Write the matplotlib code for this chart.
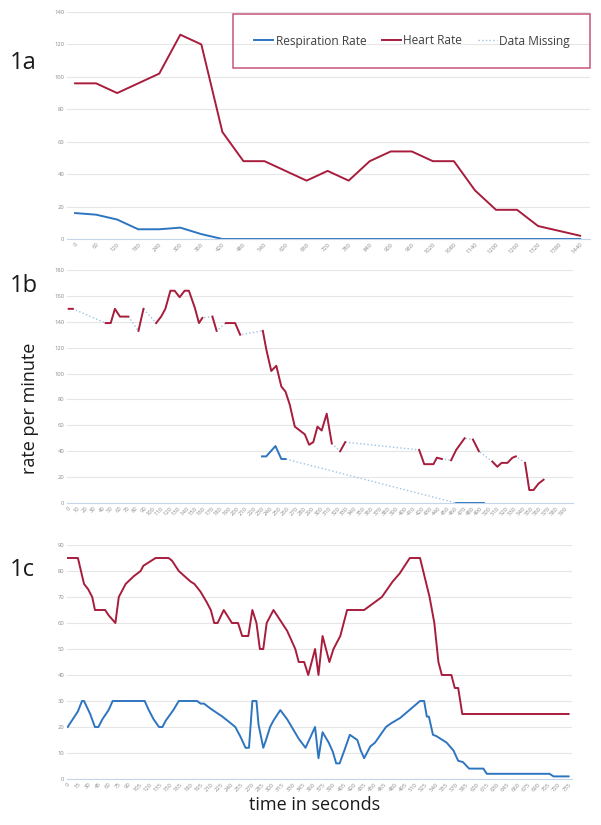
import numpy as np
import matplotlib
matplotlib.use('Agg')
import matplotlib.pyplot as plt
from matplotlib.patches import Rectangle
from matplotlib.lines import Line2D

plt.rcParams['font.family'] = ['Open Sans', 'DejaVu Sans']

# ---- panel 1a (one point per minute) ----
t_a = list(range(0, 1441, 60))
hr_a = [96, 96, 90, 96, 102, 126, 120, 66, 48, 48, 42, 36, 42, 36, 48, 54, 54,
        48, 48, 30, 18, 18, 8, 5, 2]
rr_a = [16, 15, 12, 6, 6, 7, 3, 0, 0, 0, 0, 0, 0, 0, 0, 0, 0, 0, 0, 0, 0, 0, 0, 0, 0]

# ---- panel 1b (gaps = missing data) ----
nan = np.nan
t_b = list(range(0, 591, 10))
hr_b_t = [0, 5, nan,
          44, 50, 55, 61, 71, nan,
          83, 89, nan,
          104, 110, 115, 121, 126, 132, 138, 143, 150, 155, 159, nan,
          171, 176, nan,
          187, 198, 204, nan,
          231, 235, 241, 247, 253, 258, 263, 269, 275, 281, 286, 291, 296, 301, 307, 313, nan,
          323, 329, nan,
          417, 423, 434, 438, 444, nan,
          455, 461, 471, nan,
          481, 488, nan,
          504, 510, 515, 522, 528, 532, nan,
          543, 548, 553, 559, 565]
hr_b_v = [150, 150, nan,
          139, 139, 150, 144, 144, nan,
          133, 150, nan,
          139, 144, 150, 164, 164, 159, 164, 164, 151, 139, 143, nan,
          144, 133, nan,
          139, 139, 130, nan,
          133, 119, 102, 106, 90, 86, 76, 59, 56, 53, 45, 47, 59, 56, 69, 46, nan,
          40, 47, nan,
          41, 30, 30, 35, 34, nan,
          33, 41, 50, nan,
          49, 40, nan,
          32, 28, 31, 31, 35, 36, nan,
          31, 10, 10, 15, 18]
rr_b_t = [230, 235, 246, 253, 258, nan, 461, 494]
rr_b_v = [36, 36, 44, 34, 34, nan, 0, 0]

# ---- panel 1c ----
t_c = list(range(0, 736, 15))
hr_c_t = [0, 15, 24, 30, 36, 40, 55, 60, 70, 75, 85, 97, 107, 111, 129, 148, 153, 163,
          180, 186, 195, 204, 210, 215, 220, 229, 241, 250, 256, 265, 271, 277, 282,
          287, 292, 302, 312, 322, 334, 339, 347, 353, 363, 368, 374, 384, 390, 400,
          410, 435, 461, 469, 477, 487, 502, 517, 531, 538, 544, 549, 563, 568, 573,
          579, 735]
hr_c_v = [85, 85, 75, 73, 70, 65, 65, 63, 60, 70, 75, 78, 80, 82, 85, 85, 84, 80,
          76, 75, 72, 68, 65, 60, 60, 65, 60, 60, 55, 55, 65, 60, 50,
          50, 60, 65, 61, 57, 50, 45, 45, 40, 50, 40, 55, 45, 50, 55,
          65, 65, 70, 73, 76, 79, 85, 85, 70, 60, 45, 40, 40, 35, 35,
          25, 25]
rr_c_t = [0, 5, 15, 21, 24, 33, 40, 45, 51, 60, 66, 113, 119, 126, 134, 139, 144, 155,
          163, 190, 195, 200, 210, 227, 239, 246, 254, 261, 266, 271, 277, 280, 287,
          291, 297, 302, 312, 322, 339, 349, 363, 368, 374, 383, 389, 394, 399, 406,
          414, 425, 430, 435, 444, 451, 467, 475, 488, 517, 523, 527, 530, 536, 541,
          556, 566, 573, 580, 589, 610, 615, 707, 713, 735]
rr_c_v = [20, 22, 26, 30, 30, 25, 20, 20, 23, 26.5, 30, 30, 26.5, 23, 20, 20, 22.5, 26.5,
          30, 30, 29, 29, 27, 24, 21.5, 20, 16, 12, 12, 30, 30, 21, 12,
          15, 20, 22.5, 26.5, 23, 15.5, 12, 20, 8, 18, 14, 10.5, 6, 6, 11,
          17, 15, 11, 8, 12.5, 14, 20, 21.5, 23.5, 30, 30, 24, 24, 17, 16.5,
          14, 11, 7, 6.5, 4, 4, 2, 2, 1, 1]

RED = '#a81c3c'
BLUE = '#2e75c0'
MISS = '#9dc3e6'


def style(ax, ymax, ystep, ticks):
    ax.set_ylim(0, ymax)
    ax.set_yticks(np.arange(0, ymax + 1, ystep))
    ax.set_xticks(ticks)
    ax.set_xticklabels([str(t) for t in ticks], rotation=45, ha='right',
                       rotation_mode='anchor')
    ax.grid(axis='y', color='#e6e6e6', lw=0.8)
    ax.set_axisbelow(True)
    for s in ['top', 'right', 'left']:
        ax.spines[s].set_visible(False)
    ax.spines['bottom'].set_color('#c5d6ea')
    ax.spines['bottom'].set_linewidth(0.8)
    ax.tick_params(length=0, labelsize=4.2, colors='#8c8c8c', pad=2)


fig = plt.figure(figsize=(6.01, 8.25), dpi=100)

ax1 = fig.add_axes([67 / 601, 1 - 239 / 825, 523 / 601, 227 / 825])
ax1.plot(t_a, rr_a, color=BLUE, lw=1.4)
ax1.plot(t_a, hr_a, color=RED, lw=1.4)
ax1.set_xlim(-23, 1468)
style(ax1, 140, 20, t_a)

ax2 = fig.add_axes([67 / 601, 1 - 503 / 825, 506 / 601, 233 / 825])
hb_t = np.array(hr_b_t, dtype=float)
hb_v = np.array(hr_b_v, dtype=float)
ok = ~np.isnan(hb_t)
ax2.plot(hb_t[ok], hb_v[ok], color=MISS, lw=1.0, ls=':')
rb_t = np.array(rr_b_t, dtype=float)
rb_v = np.array(rr_b_v, dtype=float)
ok = ~np.isnan(rb_t)
ax2.plot(rb_t[ok], rb_v[ok], color=MISS, lw=1.0, ls=':')
ax2.plot(hb_t, hb_v, color=RED, lw=1.4)
ax2.plot(rb_t, rb_v, color=BLUE, lw=1.4, clip_on=False)
ax2.set_xlim(-2, 600)
style(ax2, 180, 20, t_b)

ax3 = fig.add_axes([67 / 601, 1 - 779 / 825, 505 / 601, 234 / 825])
ax3.plot(rr_c_t, rr_c_v, color=BLUE, lw=1.4)
ax3.plot(hr_c_t, hr_c_v, color=RED, lw=1.4)
ax3.set_xlim(-1, 740)
style(ax3, 90, 10, t_c)

# legend box
fig.add_artist(Rectangle((233 / 601, 1 - 68 / 825), 357 / 601, 54 / 825,
                         transform=fig.transFigure, fill=False,
                         edgecolor='#c6557a', lw=1.1))
handles = [Line2D([], [], color=BLUE, lw=1.4),
           Line2D([], [], color=RED, lw=1.4),
           Line2D([], [], color=MISS, lw=1.0, ls=':')]
fig.legend(handles, ['Respiration Rate', 'Heart Rate', 'Data Missing'],
           loc='center', bbox_to_anchor=(412 / 601, 1 - 41 / 825), ncol=3,
           frameon=False, fontsize=8.6, handlelength=1.6, handletextpad=0.2,
           columnspacing=1.3, labelcolor='#404040')

for lab, y in [('1a', 63), ('1b', 286), ('1c', 570)]:
    fig.text(10 / 601, 1 - y / 825, lab, fontsize=17, va='center', ha='left',
             color='#1a1a1a')

fig.text(30 / 601, 1 - 408 / 825, 'rate per minute', rotation=90, fontsize=13,
         va='center', ha='center', color='#1a1a1a')
fig.text(315 / 601, 1 - 805 / 825, 'time in seconds', fontsize=13,
         va='center', ha='center', color='#1a1a1a')

fig.savefig('out.png', dpi=100)
